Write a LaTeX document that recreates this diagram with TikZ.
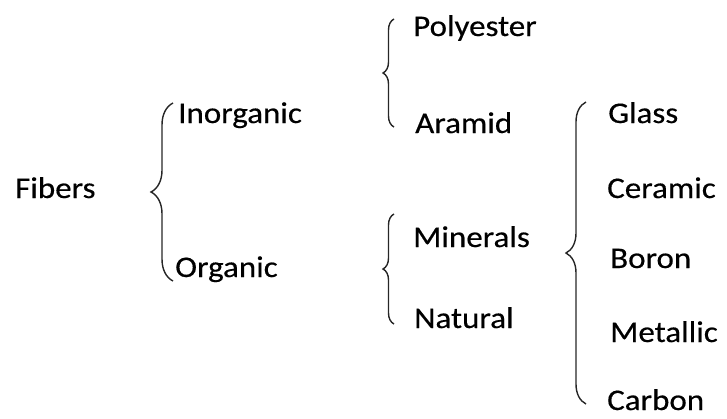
\documentclass[tikz,border=0pt]{standalone}
\usepackage{fontspec}
\setmainfont{Carlito}[FakeStretch=1.1, FakeBold=0.4]
\usetikzlibrary{decorations.pathreplacing}
\tikzset{
  item/.style={anchor=base west, inner sep=0pt, font=\fontsize{30}{36}\selectfont},
  curly/.style={decorate, decoration={brace, amplitude=#1}, line width=1.4pt, black!85}
}
\begin{document}
\begin{tikzpicture}[x=1pt, y=-1pt]
  \useasboundingbox (0,0) rectangle (727,418);
  % labels
  \node[item] (fib) at (15,198) {Fibers};
  \node[item] (inorg) at (178,123) {Inorganic};
  \node[item] (org) at (175,277) {Organic};
  \node[item] (poly) at (413,36) {Polyester};
  \node[item] (aram) at (415,133) {Aramid};
  \node[item] (min) at (413,247) {Minerals};
  \node[item] (nat) at (414,328) {Natural};
  \node[item] (gla) at (608,123) {Glass};
  \node[item] (cer) at (607,198) {Ceramic};
  \node[item] (bor) at (610,268) {Boron};
  \node[item] (met) at (610,342) {Metallic};
  \node[item] (car) at (607,410) {Carbon};
  % brace ends
  \coordinate (b1t) at (173,103); \coordinate (b1b) at (173,281);
  \coordinate (b2t) at (394,19);  \coordinate (b2b) at (394,127);
  \coordinate (b3t) at (394,214); \coordinate (b3b) at (394,324);
  \coordinate (b4t) at (586,102); \coordinate (b4b) at (586,404);
  \draw[curly=22] (b1b) -- (b1t);
  \draw[curly=11] (b2b) -- (b2t);
  \draw[curly=11] (b3b) -- (b3t);
  \draw[curly=20] (b4b) -- (b4t);
\end{tikzpicture}
\end{document}
